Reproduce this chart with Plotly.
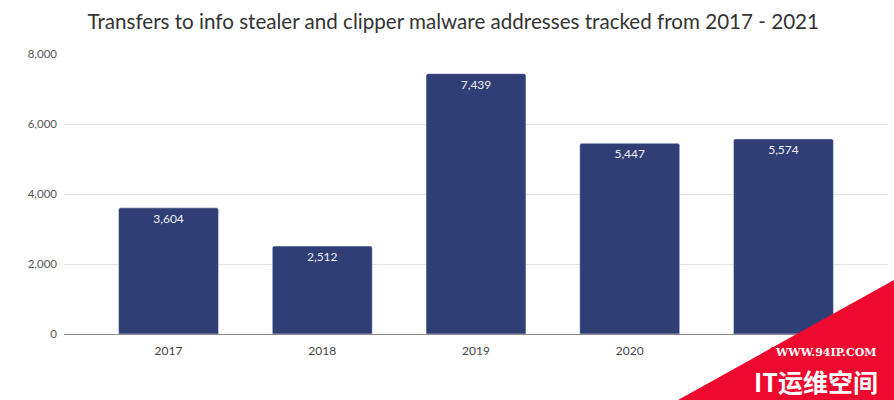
import plotly.graph_objects as go

years = ["2017", "2018", "2019", "2020", "2021"]
transfers = [3604, 2512, 7439, 5447, 5574]
y_ticks = [0, 2000, 4000, 6000, 8000]
y_tick_labels = ["0", "2,000", "4,000", "6,000", "8,000"]
title_text = "Transfers to info stealer and clipper malware addresses tracked from 2017 - 2021"
wm_url = "WWW.94IP.COM"
wm_name = "IT运维空间"

W, H = 894, 400
L, R, T, B = 64, 6, 54, 66
pw, ph = W - L - R, H - T - B

def px(x):
    return (x - L) / pw

def py(y):
    return (H - B - y) / ph

fig = go.Figure()
fig.add_trace(go.Bar(
    x=years, y=transfers,
    marker=dict(color="#2F3E75", cornerradius=2),
    width=0.65,
    text=[f"{v:,}" for v in transfers],
    textposition="inside", insidetextanchor="end",
    textfont=dict(color="#EEF0F6", size=12, family="Lato, Open Sans, sans-serif"),
    textangle=0,
    hoverinfo="skip",
))

fig.update_layout(
    width=W, height=H,
    margin=dict(l=L, r=R, t=T, b=B),
    paper_bgcolor="white", plot_bgcolor="white",
    showlegend=False,
    title=dict(text=title_text, x=0.507, xanchor="center", y=1 - 22 / H, yanchor="middle",
               font=dict(size=20.6, color="#333333", family="Lato, Open Sans, sans-serif")),
    xaxis=dict(range=[-0.68, 4.68], showgrid=False, showline=False, ticks="",
               ticklabelstandoff=8,
               tickfont=dict(size=12, color="#444444", family="Lato, Open Sans, sans-serif")),
    yaxis=dict(range=[0, 8000], tickvals=y_ticks, ticktext=y_tick_labels,
               showgrid=True, gridcolor="#E3E3E3", gridwidth=1,
               zeroline=True, zerolinecolor="#8A8A8A", zerolinewidth=1,
               showline=False, ticks="", ticklabelstandoff=6,
               tickfont=dict(size=11.5, color="#555555", family="Lato, Open Sans, sans-serif")),
    bargap=0.35,
)

# watermark
fig.add_shape(type="path", xref="paper", yref="paper",
              path=f"M {px(894)} {py(280)} L {px(894)} {py(400)} L {px(678)} {py(400)} Z",
              fillcolor="#EE0A2E", line=dict(width=0), layer="above")
fig.add_annotation(xref="paper", yref="paper", x=px(825), y=py(352), text=f"<b>{wm_url}</b>",
                   showarrow=False, xanchor="center", yanchor="middle",
                   font=dict(size=11, color="white", family="DejaVu Serif, serif"))
fig.add_annotation(xref="paper", yref="paper", x=px(816), y=py(381), text=f"<b>{wm_name}</b>",
                   showarrow=False, xanchor="center", yanchor="middle",
                   font=dict(size=25, color="white", family="Noto Sans CJK SC, sans-serif"))

fig.write_html("out.html")
